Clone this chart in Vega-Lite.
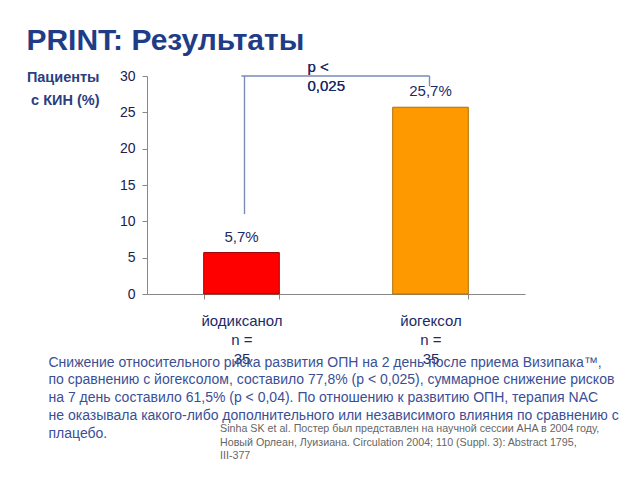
{
  "$schema": "https://vega.github.io/schema/vega-lite/v6.json",
  "background": "white",
  "padding": {"left": 26, "top": 26, "right": 5, "bottom": 5},
  "config": {"view": {"stroke": null}, "font": "Liberation Sans"},
  "title": {
    "text": "PRINT: Результаты",
    "anchor": "start",
    "frame": "bounds",
    "fontSize": 30,
    "fontWeight": "bold",
    "font": "Liberation Sans",
    "color": "#1f3d87",
    "offset": 4
  },
  "vconcat": [
    {
      "width": 378,
      "height": 218,
      "title": {
        "text": [
          "Sinha SK et al. Постер был представлен на научной сессии AHA  в 2004 году,",
          "Новый Орлеан, Луизиана. Circulation 2004; 110 (Suppl. 3): Abstract 1795,",
          "III-377"
        ],
        "orient": "bottom",
        "anchor": "start",
        "frame": "group",
        "fontSize": 10.7,
        "fontWeight": "normal",
        "font": "Liberation Sans",
        "color": "#666666",
        "lineHeight": 13.5,
        "dx": 73,
        "offset": -16
      },
      "data": {
        "values": [
          {"drug": "йодиксанол", "pct": 5.7, "label": "5,7%"},
          {"drug": "йогексол", "pct": 25.7, "label": "25,7%"}
        ]
      },
      "encoding": {
        "x": {
          "field": "drug",
          "type": "nominal",
          "sort": null,
          "scale": {"paddingInner": 0.6, "paddingOuter": 0.3},
          "axis": {
            "labelAngle": 0,
            "labelExpr": "datum.label == '' ? '' : [datum.label, 'n =', '35']",
            "labelFontSize": 15,
            "labelColor": "#1c2a66",
            "labelLineHeight": 19,
            "labelPadding": 14,
            "labelBaseline": "top",
            "tickBand": "extent",
            "tickSize": 5,
            "tickColor": "#888888",
            "domainColor": "#888888",
            "title": [
              "Снижение относительного риска развития ОПН на 2 день после приема Визипака™,",
              "по сравнению с йогексолом, составило 77,8% (p < 0,025), суммарное снижение рисков",
              "на 7 день составило 61,5% (p < 0,04). По отношению к развитию ОПН, терапия NAC",
              "не оказывала какого-либо дополнительного или независимого влияния по сравнению с",
              "плацебо."
            ],
            "titleFontSize": 14,
            "titleFontWeight": "normal",
            "titleColor": "#3a4f96",
            "titleLineHeight": 17.8,
            "titleAlign": "left",
            "titleAnchor": "start",
            "titleBaseline": "top",
            "titleX": -99,
            "titleY": 61
          }
        },
        "y": {
          "field": "pct",
          "type": "quantitative",
          "scale": {"domain": [0, 30], "nice": false},
          "axis": {
            "values": [0, 5, 10, 15, 20, 25, 30],
            "grid": false,
            "labelFontSize": 14,
            "labelColor": "#1a2050",
            "labelPadding": 7,
            "tickSize": 5,
            "tickColor": "#888888",
            "domainColor": "#888888",
            "title": ["Пациенты", "с КИН (%)"],
            "titleAngle": 0,
            "titleAlign": "right",
            "titleBaseline": "top",
            "titleFontSize": 14.5,
            "titleFontWeight": "bold",
            "titleColor": "#2a4080",
            "titleLineHeight": 23,
            "titleX": -48,
            "titleY": -6
          }
        }
      },
      "layer": [
        {
          "mark": {"type": "bar", "strokeWidth": 1},
          "encoding": {
            "color": {
              "field": "drug",
              "type": "nominal",
              "scale": {"domain": ["йодиксанол", "йогексол"], "range": ["#ff0000", "#ff9900"]},
              "legend": null
            },
            "stroke": {
              "field": "drug",
              "type": "nominal",
              "scale": {"domain": ["йодиксанол", "йогексол"], "range": ["#990000", "#b07000"]},
              "legend": null
            }
          }
        },
        {
          "mark": {"type": "text", "baseline": "bottom", "dy": -8, "fontSize": 15, "color": "#1c2a66"},
          "encoding": {
            "text": {"field": "label"}
          }
        },
        {
          "mark": {"type": "rule", "color": "#7a8ab8", "strokeWidth": 1.2, "x2Offset": -1},
          "encoding": {
            "x": {"datum": "йодиксанол"},
            "x2": {"datum": "йогексол"},
            "y": {"datum": 30, "axis": {"values": [0, 5, 10, 15, 20, 25, 30]}}
          }
        },
        {
          "mark": {"type": "rule", "color": "#7a8ab8", "strokeWidth": 1.2, "xOffset": 3},
          "encoding": {
            "x": {"datum": "йодиксанол"},
            "y": {"datum": 11, "axis": {"values": [0, 5, 10, 15, 20, 25, 30]}},
            "y2": {"datum": 30}
          }
        },
        {
          "mark": {"type": "rule", "color": "#7a8ab8", "strokeWidth": 1.2, "xOffset": -1},
          "encoding": {
            "x": {"datum": "йогексол"},
            "y": {"datum": 28.6, "axis": {"values": [0, 5, 10, 15, 20, 25, 30]}},
            "y2": {"datum": 30}
          }
        },
        {
          "mark": {"type": "text", "align": "left", "baseline": "middle", "dx": 66, "dy": -9, "fontSize": 15, "lineHeight": 19, "color": "#1c2a66", "text": ["p <", "0,025"]},
          "encoding": {
            "x": {"datum": "йодиксанол"},
            "y": {"datum": 30, "axis": {"values": [0, 5, 10, 15, 20, 25, 30]}}
          }
        }
      ]
    }
  ]
}
